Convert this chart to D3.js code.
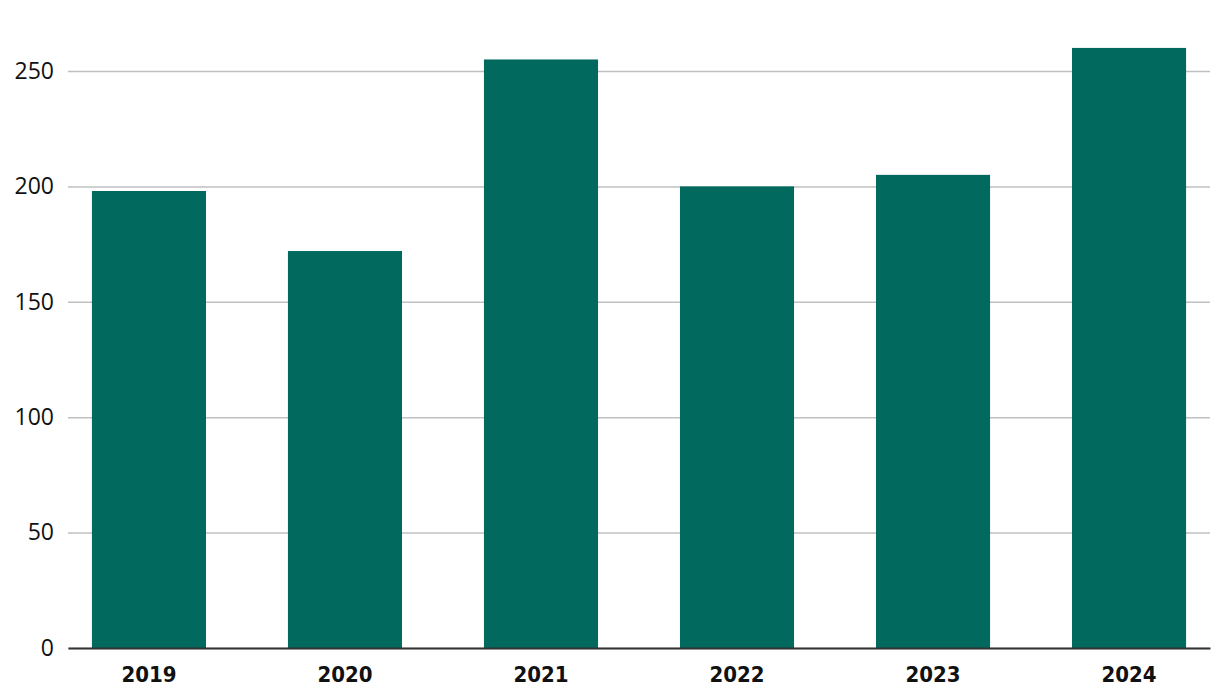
<!DOCTYPE html>
<html>
<head>
<meta charset="utf-8">
<script src="https://cdn.jsdelivr.net/npm/d3@7"></script>
<style>
  body { margin: 0; background: #fff; }
  .y-axis text { font-family: "Open Sans", sans-serif; font-size: 23px; fill: #111; }
  .x-axis text { font-family: "DejaVu Sans Condensed", "DejaVu Sans", sans-serif; font-weight: bold; font-size: 22px; fill: #111; }
</style>
</head>
<body>
<script>
// chart data
var years = ["2019", "2020", "2021", "2022", "2023", "2024"];
var values = [198, 172, 255, 200, 205, 260];
var yTicks = [0, 50, 100, 150, 200, 250];

// dimensions
var width = 1220, height = 700;
var plot = {left: 68, right: 1210, top: 71, bottom: 648};

var svg = d3.select("body").append("svg")
    .attr("width", width)
    .attr("height", height);

// scales
var x = d3.scaleBand()
    .domain(years)
    .range([plot.left, plot.right])
    .paddingInner(0.418)
    .paddingOuter(0.122);

var y = d3.scaleLinear()
    .domain([0, 250])
    .range([plot.bottom, plot.top]);

// gridlines + y labels
var yAxis = svg.append("g")
    .attr("class", "y-axis")
    .attr("transform", "translate(" + plot.left + ",0)")
    .call(d3.axisLeft(y).tickValues(yTicks).tickSize(-(plot.right - plot.left)).tickPadding(14));
yAxis.select(".domain").remove();
yAxis.selectAll(".tick line")
    .attr("stroke", "#c0c0c0")
    .attr("stroke-width", 1.5);

// bars
svg.append("g").selectAll("rect")
    .data(years)
    .enter().append("rect")
    .attr("x", function(d) { return x(d); })
    .attr("width", x.bandwidth())
    .attr("y", function(d, i) { return y(values[i]); })
    .attr("height", function(d, i) { return y(0) - y(values[i]); })
    .attr("fill", "#02695f");

// x axis
var xAxis = svg.append("g")
    .attr("class", "x-axis")
    .attr("transform", "translate(0," + plot.bottom + ")")
    .call(d3.axisBottom(x).tickSize(0).tickPadding(18));
xAxis.select(".domain")
    .attr("stroke", "#333")
    .attr("stroke-width", 2);
</script>
</body>
</html>
